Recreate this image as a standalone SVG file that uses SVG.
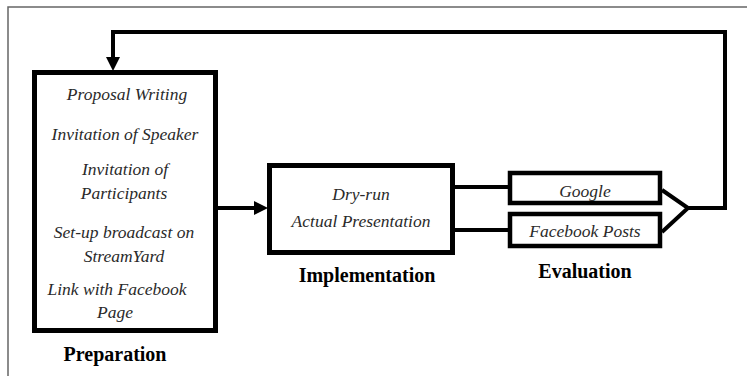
<svg xmlns="http://www.w3.org/2000/svg" width="747" height="376" viewBox="0 0 747 376">
<defs>
<style>
.box{fill:#fff;stroke:#000;stroke-width:5}
.ebox{fill:#fff;stroke:#000;stroke-width:4.5}
.it{font-style:italic;font-size:17.5px;fill:#2a2a2a;text-anchor:middle}
.bd{font-weight:bold;font-size:20px;fill:#000;text-anchor:middle}
.ln{fill:none;stroke:#000;stroke-width:4}
</style>
<marker id="arr" viewBox="0 0 14 14" refX="0" refY="7" markerWidth="14" markerHeight="14" markerUnits="userSpaceOnUse" orient="auto">
<path d="M0,0 L14,7 L0,14 z" fill="#000"/>
</marker>
</defs>
<rect width="747" height="376" fill="#fff"/>
<path d="M8,376 V7 H747" fill="none" stroke="#666" stroke-width="1.5"/>

<g id="connectors">
<path class="ln" d="M688,208 H725 V32 H113 V57" marker-end="url(#arr)"/>
<path class="ln" d="M217,208 H254" marker-end="url(#arr)"/>
<path class="ln" d="M455,187 H510"/>
<path class="ln" d="M455,230 H510"/>
<path class="ln" d="M662,190 L688,208 L662,232"/>
</g>

<g id="preparation" font-family="Liberation Serif, Times New Roman, serif">
<rect class="box" x="34.5" y="72.5" width="181" height="258"/>
<text class="it" x="127" y="100">Proposal Writing</text>
<text class="it" x="125" y="140">Invitation of Speaker</text>
<text class="it" x="125" y="175">Invitation of</text>
<text class="it" x="124" y="199">Participants</text>
<text class="it" x="124" y="238">Set-up broadcast on</text>
<text class="it" x="124" y="262">StreamYard</text>
<text class="it" x="117" y="295">Link with Facebook</text>
<text class="it" x="115" y="318">Page</text>
<text class="bd" x="115" y="361">Preparation</text>
</g>

<g id="implementation" font-family="Liberation Serif, Times New Roman, serif">
<rect class="box" x="269.5" y="165.5" width="183" height="87"/>
<text class="it" x="361" y="200">Dry-run</text>
<text class="it" x="361" y="227">Actual Presentation</text>
<text class="bd" x="367" y="282">Implementation</text>
</g>

<g id="evaluation" font-family="Liberation Serif, Times New Roman, serif">
<rect class="ebox" x="510" y="173" width="150" height="30"/>
<text class="it" x="585" y="197">Google</text>
<rect class="ebox" x="510" y="214" width="150" height="32"/>
<text class="it" x="585" y="237">Facebook Posts</text>
<text class="bd" x="585" y="278">Evaluation</text>
</g>
</svg>
